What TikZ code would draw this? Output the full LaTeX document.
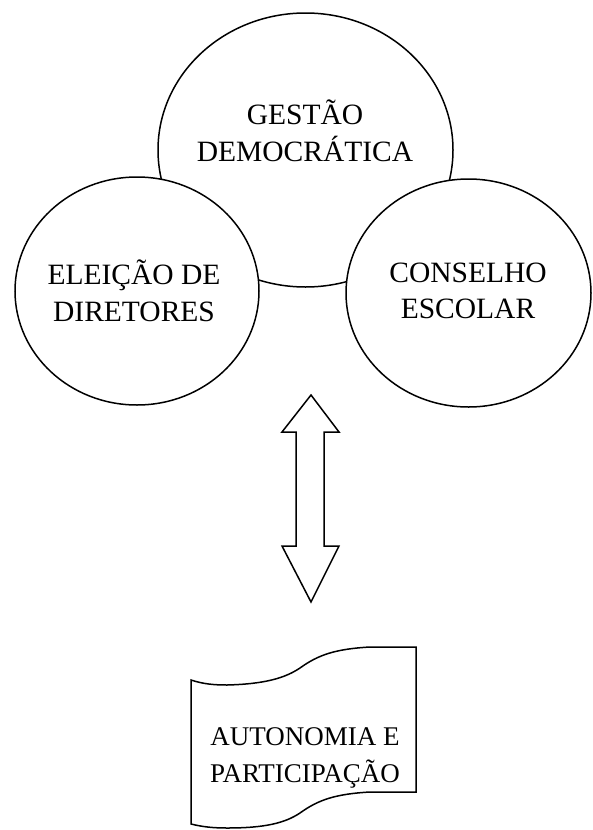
\documentclass[tikz,border=0pt]{standalone}
\usepackage{fontspec}
\setmainfont{Liberation Serif}
\usetikzlibrary{shapes.geometric}
\begin{document}
\begin{tikzpicture}[x=1pt,y=-1pt, line width=1.5pt, line join=miter,
  circ/.style={draw, ellipse, fill=white, inner sep=0pt},
  lbl/.style={font=\fontsize{29.5}{36.5}\selectfont, align=center, inner sep=0pt},
  lblsmall/.style={font=\fontsize{27}{37}\selectfont, align=center, inner sep=0pt}]
\useasboundingbox (0,0) rectangle (592,830);
\node[circ, minimum width=295pt, minimum height=274pt] (gd) at (305.5,150) {};
\node[circ, minimum width=244pt, minimum height=228pt] (ed) at (137,291) {};
\node[circ, minimum width=245pt, minimum height=228pt] (ce) at (468.5,293) {};
\node[lbl] (tgd) at (305,131) {GESTÃO\\DEMOCRÁTICA};
\node[lbl] (ted) at (134,291) {ELEIÇÃO DE\\DIRETORES};
\node[lbl] (tce) at (468,291) {CONSELHO\\ESCOLAR};
\draw (311,395) -- (339,432) -- (324,432) -- (324,546) -- (339,546) -- (311,602)
  -- (282,546) -- (296,546) -- (296,432) -- (282,432) -- cycle;
\draw (191,680) .. controls (203,684) and (214,685) .. (227,685)
  .. controls (265,684) and (285,678) .. (300,668)
  .. controls (318,655) and (335,649) .. (370,647) -- (416,647) -- (416,792)
  -- (370,792) .. controls (335,794) and (318,800) .. (300,813)
  .. controls (285,823) and (265,828) .. (227,828)
  .. controls (214,828) and (203,827) .. (191,824) -- cycle;
\node[lblsmall] (ap) at (305,758) {AUTONOMIA E\\PARTICIPAÇÃO};
\end{tikzpicture}
\end{document}
